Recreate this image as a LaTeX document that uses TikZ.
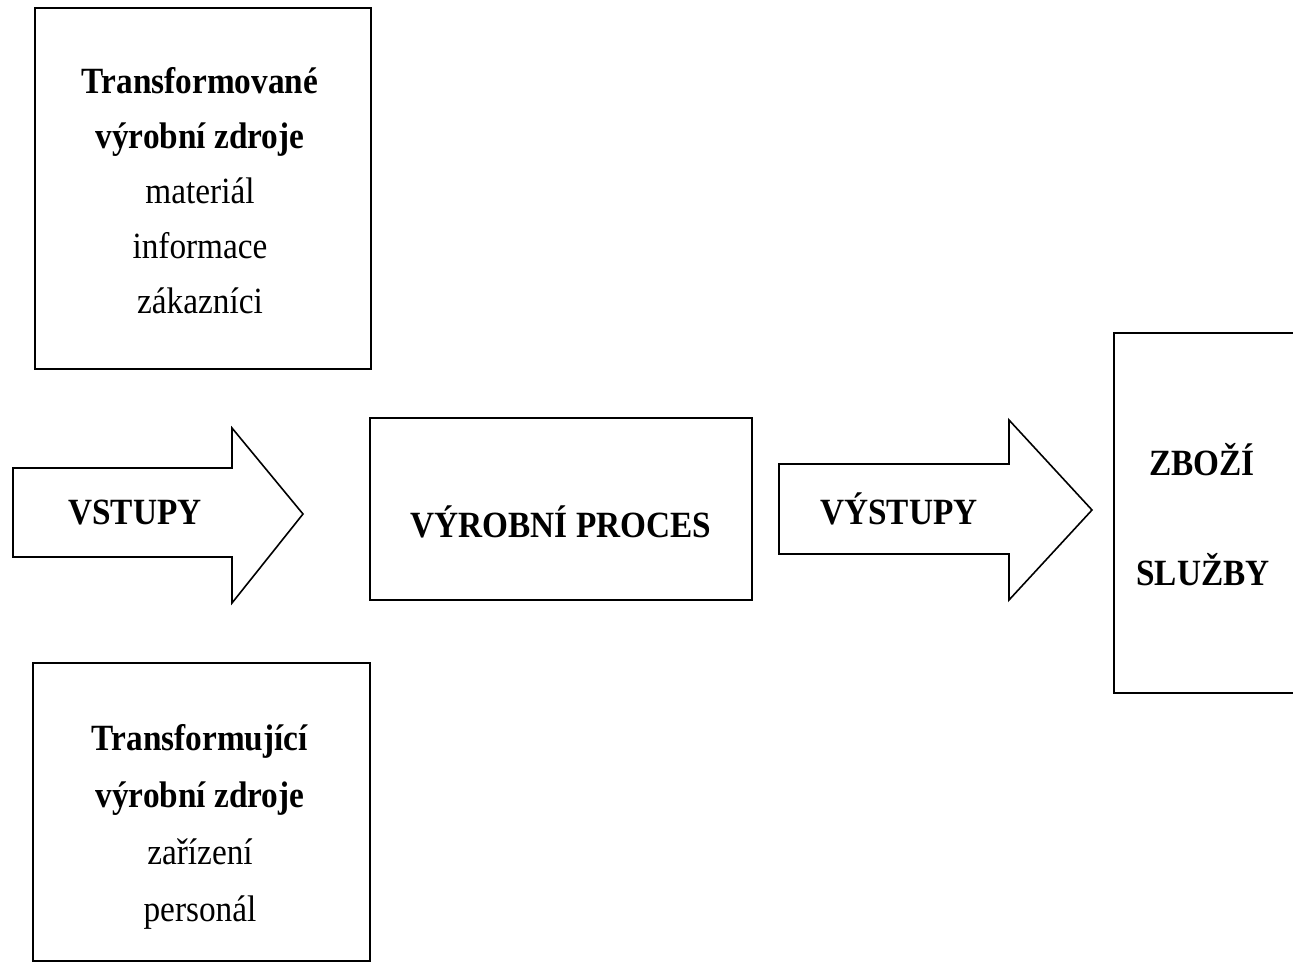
\documentclass[tikz,border=0pt]{standalone}
\usepackage{fontspec}
\setmainfont[FakeStretch=0.9]{Liberation Serif}
\begin{document}
\begin{tikzpicture}[x=1pt,y=-1pt]
\tikzset{
  box/.style={draw, line width=2pt, rectangle, inner sep=0pt},
  blockarrow/.style={draw, line width=1.6pt, line join=miter},
  lbl/.style={font=\fontsize{37}{55}\selectfont\bfseries, inner sep=0pt, anchor=base},
  body/.style={align=center, inner sep=0pt, anchor=base},
}
\useasboundingbox (0,0) rectangle (1293,963);
\clip (0,0) rectangle (1293,963);
\fill[white] (0,0) rectangle (1293,963);

% boxes
\node[box, minimum width=336pt, minimum height=361pt] (inA) at (203,188.5) {};
\node[box, minimum width=337pt, minimum height=298pt] (inB) at (201.5,812) {};
\node[box, minimum width=382pt, minimum height=182pt] (proc) at (561,509) {};
\node[box, minimum width=200pt, minimum height=360pt] (res) at (1214,513) {};

% texts in boxes (anchor base = baseline of the last line)
\node[body, font=\fontsize{37}{55}\selectfont] (inAtxt) at (200,313)
  {\textbf{Transformované}\\\textbf{výrobní zdroje}\\materiál\\informace\\zákazníci};
\node[body, font=\fontsize{37}{57}\selectfont] (inBtxt) at (200,921)
  {\textbf{Transformující}\\\textbf{výrobní zdroje}\\zařízení\\personál};
\node[lbl] (proctxt) at (561,537) {VÝROBNÍ PROCES};
\node[lbl] (goods) at (1202,475) {ZBOŽÍ};
\node[lbl] (serv) at (1203,585) {SLUŽBY};

% block arrows
\draw[blockarrow] (13,468) -- (232,468) -- (232,428) -- (303,514) -- (232,603)
  -- (232,557) -- (13,557) -- cycle;
\draw[blockarrow] (779,464) -- (1009,464) -- (1009,420) -- (1092,510) -- (1009,600)
  -- (1009,554) -- (779,554) -- cycle;
\node[lbl] (vst) at (135,524) {VSTUPY};
\node[lbl] (vyst) at (899,524) {VÝSTUPY};
\end{tikzpicture}
\end{document}
